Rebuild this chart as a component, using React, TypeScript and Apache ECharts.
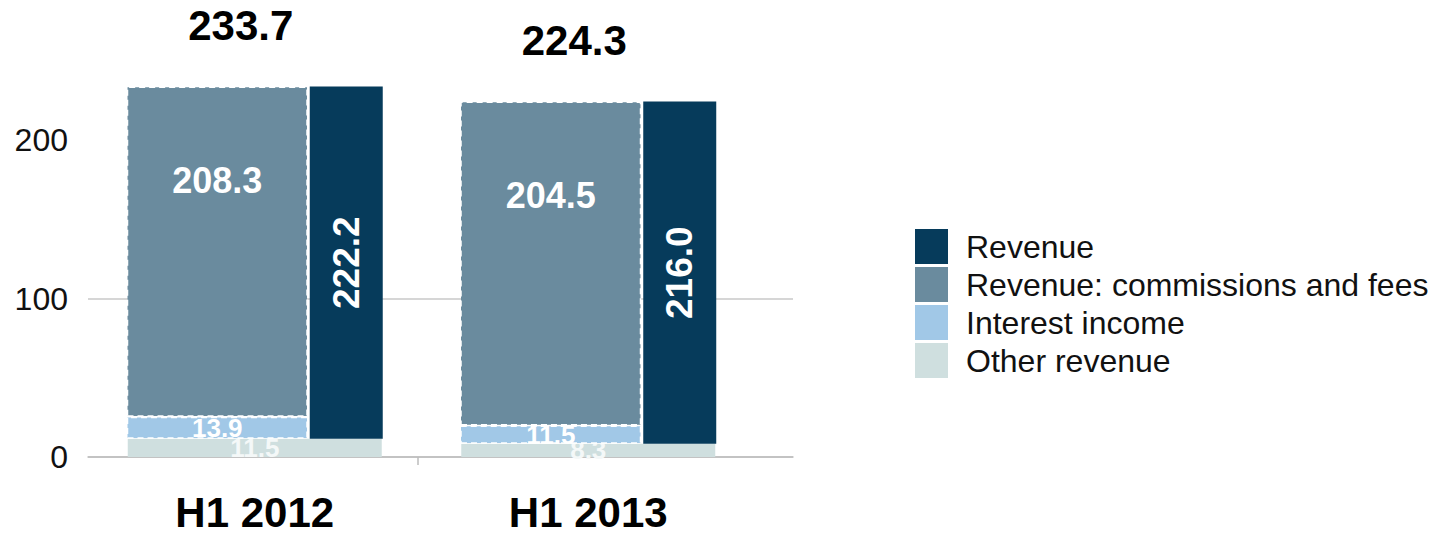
import React, { useEffect, useRef } from "react";
import * as echarts from "echarts";

const categories = ["H1 2012", "H1 2013"];
const otherRevenue = [11.5, 8.3];
const interestIncome = [13.9, 11.5];
const commissionsFees = [208.3, 204.5];
const revenue = [222.2, 216.0];
const totals = [233.7, 224.3];
const yTicks = [0, 100, 200];

const FONT = "'Liberation Sans', Arial, sans-serif";
const C_REV = "#063b5b";
const C_COM = "#6a8b9e";
const C_INT = "#a1c8e7";
const C_OTH = "#cfdfdf";

const fmt = (p: any) => Number(p.value).toFixed(1);

export default function App() {
  const ref = useRef<HTMLDivElement>(null);
  useEffect(() => {
    if (!ref.current) return;
    const chart = echarts.init(ref.current, undefined, { renderer: "svg" });
    const yMax = 280;
    const pxPerUnit = (457 - 140) / 200;
    const top = 457 - yMax * pxPerUnit;
    const bottom = 534 - 457;
    const whiteLabel = (size: number) => ({
      show: true,
      color: "#ffffff",
      fontFamily: FONT,
      fontWeight: "bold" as const,
      fontSize: size,
      formatter: fmt,
    });
    const dashed = { borderColor: "#ffffff", borderWidth: 1.5, borderType: [6, 4] };
    chart.setOption({
      animation: false,
      textStyle: { fontFamily: FONT },
      legend: {
        orient: "vertical",
        left: 915,
        top: 229,
        padding: 0,
        itemWidth: 33,
        itemHeight: 35,
        itemGap: 3,
        icon: "rect",
        itemStyle: { borderWidth: 0 },
        textStyle: { fontSize: 32, color: "#111111", fontFamily: FONT, padding: [0, 0, 0, 13], lineHeight: 35 },
        data: ["Revenue", "Revenue: commissions and fees", "Interest income", "Other revenue"],
      },
      grid: [
        { left: 88, width: 705, top, bottom, outerBoundsMode: "none" },
        { left: 88, width: 667, top, bottom, outerBoundsMode: "none" },
      ],
      xAxis: [
        {
          type: "value",
          gridIndex: 0,
          min: 0,
          max: 705,
          axisLine: { show: true, lineStyle: { color: "#bdbdbd", width: 1.5 } },
          axisTick: { show: true, customValues: [330], length: 8, lineStyle: { color: "#bdbdbd", width: 1.5 } },
          axisLabel: { show: false },
          splitLine: { show: false },
        },
        {
          type: "category",
          gridIndex: 1,
          data: categories,
          axisLine: { show: false },
          axisTick: { show: false },
          axisLabel: {
            color: "#000",
            fontSize: 42,
            lineHeight: 42,
            fontWeight: "bold",
            fontFamily: FONT,
            margin: 34,
          },
        },
        { type: "category", gridIndex: 1, data: categories, show: false },
      ],
      yAxis: [
        {
          type: "value",
          gridIndex: 0,
          min: 0,
          max: yMax,
          interval: 100,
          axisLine: { show: false },
          axisTick: { show: false, customValues: yTicks },
          axisLabel: {
            color: "#111",
            fontSize: 32,
            fontFamily: FONT,
            margin: 20,
            customValues: yTicks,
          },
          splitLine: { showMaxLine: false, lineStyle: { color: "#c8c8c8", width: 1.5 } },
        },
        { type: "value", gridIndex: 1, min: 0, max: yMax, show: false },
      ],
      series: [
        {
          name: "Other revenue",
          type: "bar",
          xAxisIndex: 1,
          yAxisIndex: 1,
          barWidth: 254,
          barGap: "-100%",
          data: otherRevenue,
          itemStyle: { color: C_OTH },
          label: { ...whiteLabel(26), position: "inside", color: "#f4f8f8" },
          z: 2,
        },
        {
          name: "Total",
          type: "bar",
          xAxisIndex: 1,
          yAxisIndex: 1,
          barWidth: 254,
          barGap: "-100%",
          data: totals,
          silent: true,
          itemStyle: { color: "transparent" },
          label: {
            show: true,
            position: "top",
            distance: 40,
            offset: [-14, 0],
            color: "#000",
            fontFamily: FONT,
            fontWeight: "bold",
            fontSize: 42,
            formatter: fmt,
          },
          z: 1,
        },
        {
          name: "baseA",
          type: "bar",
          xAxisIndex: 2,
          yAxisIndex: 1,
          stack: "a",
          barWidth: 181,
          barGap: "1.1%",
          data: otherRevenue,
          silent: true,
          itemStyle: { color: "transparent" },
          z: 3,
        },
        {
          name: "Interest income",
          type: "bar",
          xAxisIndex: 2,
          yAxisIndex: 1,
          stack: "a",
          barWidth: 181,
          barGap: "1.1%",
          data: interestIncome,
          itemStyle: { color: C_INT, ...dashed },
          label: { ...whiteLabel(26), position: "inside" },
          z: 3,
        },
        {
          name: "Revenue: commissions and fees",
          type: "bar",
          xAxisIndex: 2,
          yAxisIndex: 1,
          stack: "a",
          barWidth: 181,
          barGap: "1.1%",
          data: commissionsFees,
          itemStyle: { color: C_COM, ...dashed },
          label: { ...whiteLabel(36), position: "insideTop", distance: 76 },
          z: 3,
        },
        {
          name: "baseB",
          type: "bar",
          xAxisIndex: 2,
          yAxisIndex: 1,
          stack: "b",
          barWidth: 73,
          barGap: "1.1%",
          data: otherRevenue,
          silent: true,
          itemStyle: { color: "transparent" },
          z: 3,
        },
        {
          name: "Revenue",
          type: "bar",
          xAxisIndex: 2,
          yAxisIndex: 1,
          stack: "b",
          barWidth: 73,
          barGap: "1.1%",
          data: revenue,
          itemStyle: { color: C_REV },
          label: { ...whiteLabel(37), position: "inside", rotate: 90 },
          z: 3,
        },
      ],
    });
    return () => chart.dispose();
  }, []);
  return (
    <div
      ref={ref}
      style={{ position: "absolute", left: 0, top: 0, width: 1434, height: 534, background: "#ffffff" }}
    />
  );
}
